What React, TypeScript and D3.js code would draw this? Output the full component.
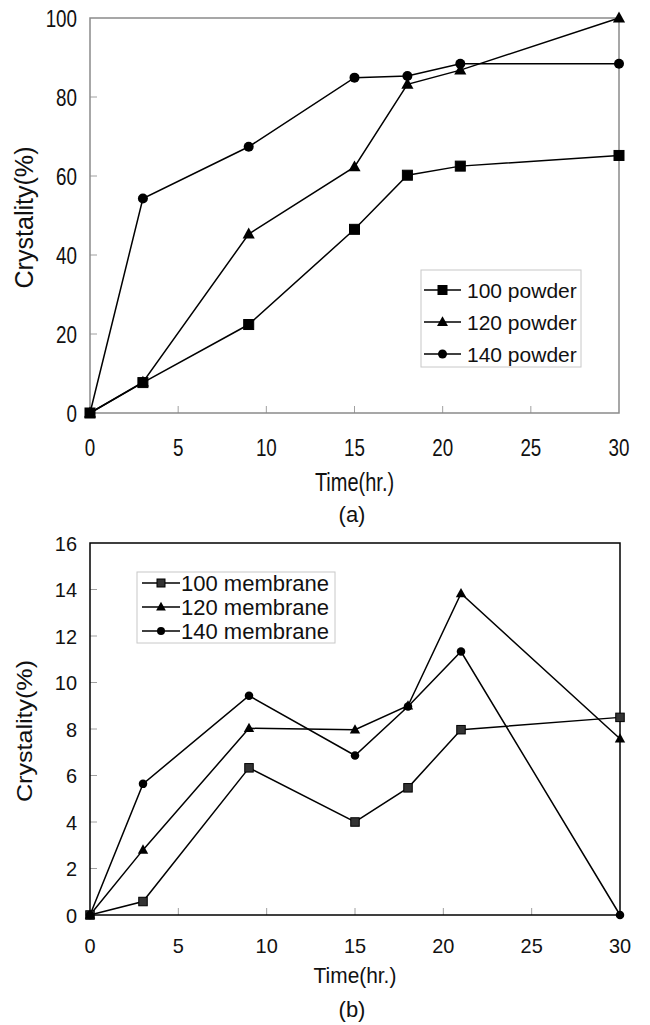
import React, { useEffect, useRef } from 'react';
import * as d3 from 'd3';

const hours = [0, 3, 9, 15, 18, 21, 30];
const xTicks = [0, 5, 10, 15, 20, 25, 30];

// (a) powder
const powderNames = ['100 powder', '120 powder', '140 powder'];
const powder100 = [0, 7.7, 22.4, 46.5, 60.2, 62.5, 65.2];
const powder120 = [0, 7.8, 45.3, 62.3, 83.2, 86.8, 100];
const powder140 = [0, 54.3, 67.4, 84.9, 85.3, 88.4, 88.4];
const powderYTicks = [0, 20, 40, 60, 80, 100];

// (b) membrane
const membraneNames = ['100 membrane', '120 membrane', '140 membrane'];
const membrane100 = [0, 0.58, 6.33, 4.0, 5.47, 7.97, 8.5];
const membrane120 = [0, 2.8, 8.03, 7.97, 9.0, 13.83, 7.58];
const membrane140 = [0, 5.64, 9.43, 6.86, 8.97, 11.33, 0];
const membraneYTicks = [0, 2, 4, 6, 8, 10, 12, 14, 16];

const FONT = '"Liberation Sans", Arial, sans-serif';
const shapes = ['square', 'triangle', 'circle'];

// text squeezed horizontally (the top panel uses a narrow face)
function label(g, x, y, str, size, sx, anchor, rotate = 0) {
    return g.append('text')
        .attr('transform', `translate(${x},${y}) rotate(${rotate}) scale(${sx},1)`)
        .attr('text-anchor', anchor)
        .attr('font-family', FONT).attr('font-size', size)
        .attr('fill', '#111')
        .text(str);
}

function marker(g, shape, x, y, size, fill) {
    if (shape === 'square') {
        g.append('rect')
            .attr('x', x - size / 2).attr('y', y - size / 2)
            .attr('width', size).attr('height', size)
            .attr('fill', fill).attr('stroke', '#000').attr('stroke-width', 1);
    } else if (shape === 'triangle') {
        const h = size * 1.05;
        g.append('path')
            .attr('d', `M${x},${y - h * 0.62}L${x + h * 0.58},${y + h * 0.42}L${x - h * 0.58},${y + h * 0.42}Z`)
            .attr('fill', '#000');
    } else {
        g.append('circle').attr('cx', x).attr('cy', y).attr('r', size / 2).attr('fill', '#000');
    }
}

function drawPanel(svg, cfg) {
    const x = d3.scaleLinear().domain([0, 30]).range([cfg.left, cfg.right]);
    const y = d3.scaleLinear().domain([0, cfg.yMax]).range([cfg.bottom, cfg.top]);
    const g = svg.append('g');

    // ticks inside the frame
    g.selectAll('.yt').data(cfg.yTicks.slice(1, -1)).enter().append('line')
        .attr('x1', cfg.left).attr('x2', cfg.left + 7)
        .attr('y1', d => y(d)).attr('y2', d => y(d))
        .attr('stroke', cfg.tickColor).attr('stroke-width', 1);
    g.selectAll('.xt').data(xTicks.slice(1, -1)).enter().append('line')
        .attr('x1', d => x(d)).attr('x2', d => x(d))
        .attr('y1', cfg.bottom).attr('y2', cfg.bottom - 7)
        .attr('stroke', cfg.tickColor).attr('stroke-width', 1);

    g.append('rect')
        .attr('x', cfg.left).attr('y', cfg.top)
        .attr('width', cfg.right - cfg.left).attr('height', cfg.bottom - cfg.top)
        .attr('fill', 'none').attr('stroke', cfg.frameColor).attr('stroke-width', 1.5);

    cfg.yTicks.forEach(d => label(g, cfg.left - 13, y(d) + cfg.yLabelDy, d, cfg.tickFont, cfg.squeeze, 'end'));
    xTicks.forEach(d => label(g, x(d), cfg.xLabelY, d, cfg.tickFont, cfg.squeeze, 'middle'));

    label(g, (cfg.left + cfg.right) / 2, cfg.xTitleY, 'Time(hr.)', cfg.titleFont, cfg.squeeze, 'middle');
    label(g, cfg.yTitleX, (cfg.top + cfg.bottom) / 2 + 2, 'Crystality(%)', cfg.titleFont, 1, 'middle', -90)
        .attr('textLength', 142).attr('lengthAdjust', 'spacingAndGlyphs');
    label(g, 352, cfg.captionY, cfg.caption, 22, 1, 'middle');

    const line = d3.line()
        .x((d, i) => x(hours[i]))
        .y(d => y(d));

    cfg.series.forEach(s => {
        g.append('path')
            .attr('d', line(s))
            .attr('fill', 'none').attr('stroke', '#000').attr('stroke-width', 1.5);
    });
    cfg.series.forEach((s, k) => {
        s.forEach((v, i) => marker(g, shapes[k], x(hours[i]), y(v), cfg.markerSize, cfg.squareFill));
    });

    // legend
    const lg = cfg.legend;
    g.append('rect')
        .attr('x', lg.x).attr('y', lg.y).attr('width', lg.w).attr('height', lg.h)
        .attr('fill', '#fff').attr('stroke', '#c8c8c8').attr('stroke-width', 1);
    cfg.names.forEach((name, k) => {
        const cy = lg.rows[k];
        g.append('line')
            .attr('x1', lg.lineX1).attr('x2', lg.lineX2)
            .attr('y1', cy).attr('y2', cy)
            .attr('stroke', '#000').attr('stroke-width', 1.5);
        marker(g, shapes[k], (lg.lineX1 + lg.lineX2) / 2, cy, cfg.legendMarker, cfg.squareFill);
        label(g, lg.textX, cy + 7.5, name, lg.font, 1, 'start');
    });
}

export default function App() {
    const ref = useRef(null);

    useEffect(() => {
        const svg = d3.select(ref.current);
        svg.selectAll('*').remove();

        drawPanel(svg, {
            left: 90, right: 619, top: 18, bottom: 413, yMax: 100,
            yTicks: powderYTicks, series: [powder100, powder120, powder140], names: powderNames,
            frameColor: '#8a8a8a', tickColor: '#a0a0a0',
            tickFont: 23.5, squeeze: 0.8, yLabelDy: 8.5, titleFont: 25, yTitleX: 33,
            xLabelY: 456, xTitleY: 491, captionY: 522, caption: '(a)',
            markerSize: 10, legendMarker: 9, squareFill: '#000',
            legend: { x: 421, y: 270, w: 160, h: 97, rows: [290, 322, 354], lineX1: 424, lineX2: 461, textX: 467, font: 21 }
        });

        drawPanel(svg, {
            left: 90, right: 620, top: 543, bottom: 915, yMax: 16,
            yTicks: membraneYTicks, series: [membrane100, membrane120, membrane140], names: membraneNames,
            frameColor: '#000', tickColor: '#a0a0a0',
            tickFont: 21, squeeze: 0.95, yLabelDy: 7.5, titleFont: 22, yTitleX: 32,
            xLabelY: 953, xTitleY: 983, captionY: 1017, caption: '(b)',
            markerSize: 8.5, legendMarker: 8, squareFill: '#333',
            legend: { x: 137, y: 572, w: 198, h: 71, rows: [583, 607, 631], lineX1: 142, lineX2: 180, textX: 181, font: 22 }
        });
    }, []);

    return (
        <svg ref={ref} width={650} height={1025}
            style={{ position: 'absolute', left: 0, top: 0, background: '#fff' }} />
    );
}
